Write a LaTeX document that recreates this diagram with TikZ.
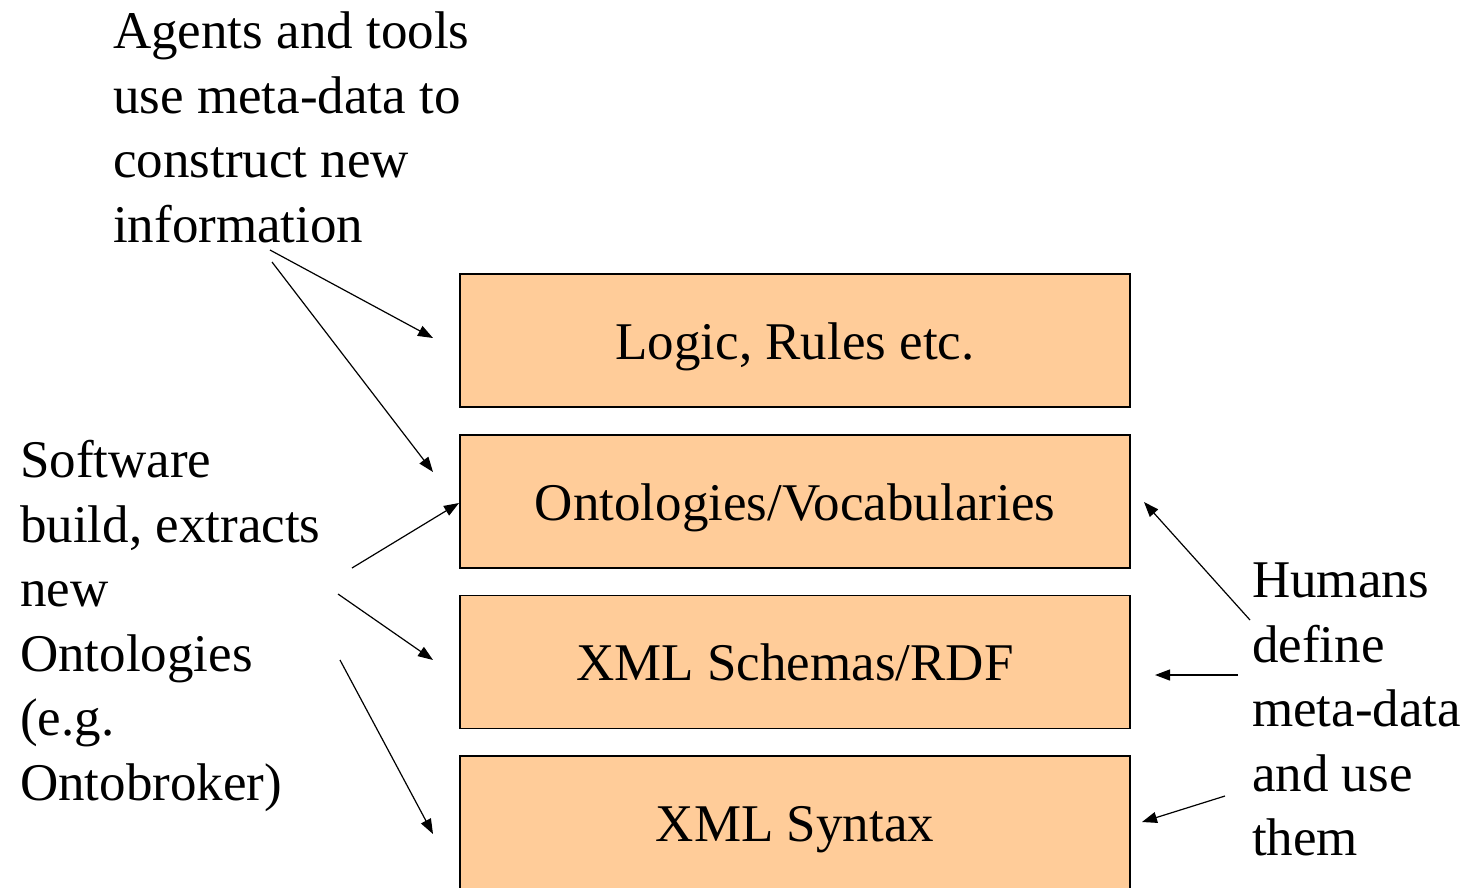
\documentclass[tikz,border=0pt]{standalone}
\usepackage{fontspec}
\setmainfont{Liberation Serif}
\usepackage{xcolor}
\definecolor{boxorange}{RGB}{255,204,153}
\usetikzlibrary{positioning, arrows.meta}

\begin{document}
\begin{tikzpicture}[x=1pt, y=1pt,
    layerbox/.style={draw=black, line width=1.5pt, fill=boxorange, minimum width=670pt,
        minimum height=133pt, inner sep=0pt, text height=37pt, text depth=0pt,
        font=\fontsize{53}{64.5}\selectfont},
    note/.style={align=left, anchor=north west, inner sep=0pt, font=\fontsize{53}{64.5}\selectfont},
    pointer/.style={line width=1.2pt, black, -{Triangle[length=15pt, width=11pt]}}]
    \useasboundingbox (0,0) rectangle (1465,-887);          % page size
    \node [layerbox] (logic) at (795,-340.5) {Logic, Rules etc.};        % layer 4
    \node [layerbox] (onto)  at (795,-501.5) {Ontologies/Vocabularies};  % layer 3
    \node [layerbox] (schema) at (795,-662)  {XML Schemas/RDF};          % layer 2
    \node [layerbox] (syntax) at (795,-822.5) {XML Syntax};              % layer 1
    \node [note] (agents) at (113,-12) {Agents and tools\\use meta-data to\\construct new\\information};   % top left text
    \node [note] (software) at (20,-440) {Software\\build, extracts\\new\\Ontologies\\(e.g.\\Ontobroker)}; % left text
    \node [note] (humans) at (1252,-563) {Humans\\define\\meta-data\\and use\\them};                       % right text
    \coordinate (agentsA) at (270,-250);     % arrow starts
    \coordinate (agentsB) at (272,-262);
    \coordinate (softA) at (352,-568);
    \coordinate (softB) at (338,-594);
    \coordinate (softC) at (340,-660);
    \coordinate (humA) at (1250,-620);
    \coordinate (humB) at (1238,-675);
    \coordinate (humC) at (1225,-796);
    \coordinate (logicL) at (433,-338);      % arrow ends
    \coordinate (ontoL) at (433,-472);
    \coordinate (ontoLL) at (459,-503);
    \coordinate (schemaL) at (433,-660);
    \coordinate (syntaxL) at (433,-834);
    \coordinate (ontoR) at (1144,-502);
    \coordinate (schemaR) at (1155,-675);
    \coordinate (syntaxR) at (1142,-822);
    \draw [pointer] (agentsA) -- (logicL);
    \draw [pointer] (agentsB) -- (ontoL);
    \draw [pointer] (softA) -- (ontoLL);
    \draw [pointer] (softB) -- (schemaL);
    \draw [pointer] (softC) -- (syntaxL);
    \draw [pointer] (humA) -- (ontoR);
    \draw [pointer] (humB) -- (schemaR);
    \draw [pointer] (humC) -- (syntaxR);
\end{tikzpicture}
\end{document}
